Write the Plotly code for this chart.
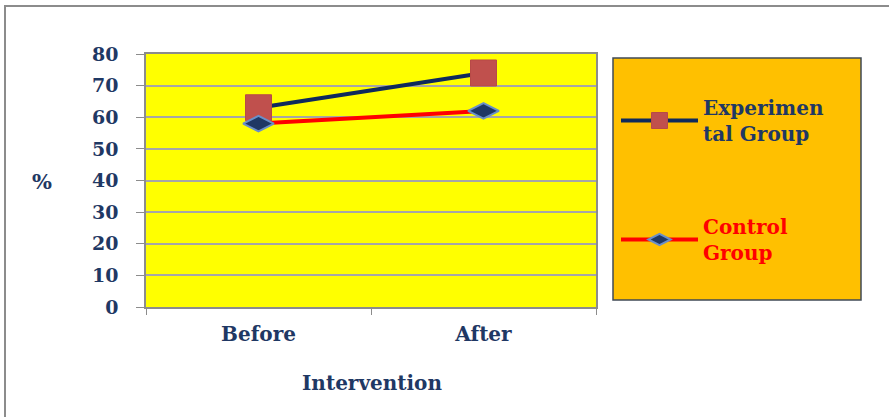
import plotly.graph_objects as go

# Before/after intervention percentages for the two study groups
categories = ["Before", "After"]
experimental = [63, 74]
control = [58, 62]
y_ticks = [0, 10, 20, 30, 40, 50, 60, 70, 80]

NAVY = "#1F3864"
SERIF = "DejaVu Serif"

W, H = 889, 417
L, R, T, B = 146, 596, 54, 307  # plot area in pixels


def px_x(x):
    return (x - L) / (R - L)


def px_y(y):
    return (B - y) / (B - T)


fig = go.Figure()

fig.add_trace(go.Scatter(
    x=categories, y=experimental, mode="lines+markers",
    name="<span style='color:#1F3864'>Experimen<br>tal Group</span>",
    legendgroup="exp",
    line=dict(color="#0F2A5C", width=4),
    marker=dict(symbol="square", size=26, color="#C0504D",
                line=dict(color="#B84A47", width=1)),
))
fig.add_trace(go.Scatter(
    x=categories, y=control, mode="lines+markers",
    name="<span style='color:#FF0000'>Control<br>Group</span>",
    legendgroup="ctl",
    line=dict(color="#FF0000", width=4),
    marker=dict(symbol="diamond-wide", size=22, color=NAVY,
                line=dict(color="#6A8FC8", width=2)),
))

shapes = [
    # outer chart frame
    dict(type="rect", xref="paper", yref="paper", layer="below",
         x0=px_x(5), x1=px_x(900), y0=px_y(430), y1=px_y(6),
         line=dict(color="#8C8C8C", width=2), fillcolor="rgba(0,0,0,0)"),
    # legend panel
    dict(type="rect", xref="paper", yref="paper", layer="below",
         x0=px_x(613), x1=px_x(861), y0=px_y(300), y1=px_y(58),
         line=dict(color="#404A55", width=1.5), fillcolor="#FFC000"),
]

annotations = [
    dict(text="%", xref="paper", yref="paper",
         x=px_x(42), y=px_y(181), xanchor="center", yanchor="middle",
         showarrow=False,
         font=dict(family=SERIF, size=21, color=NAVY, weight="bold")),
    dict(text="Intervention", xref="paper", yref="paper",
         x=px_x(372), y=px_y(383), xanchor="center", yanchor="middle",
         showarrow=False,
         font=dict(family=SERIF, size=20, color=NAVY, weight="bold")),
]

tick_font = dict(family=SERIF, size=19, color=NAVY, weight="bold")

fig.update_layout(
    width=W, height=H,
    margin=dict(l=L, r=W - R, t=T, b=H - B),
    paper_bgcolor="white",
    plot_bgcolor="#FFFF00",
    showlegend=True,
    legend=dict(
        x=px_x(616), y=px_y(88), xanchor="left", yanchor="top",
        bgcolor="rgba(0,0,0,0)", borderwidth=0,
        font=dict(family=SERIF, size=20, color=NAVY, weight="bold"),
        tracegroupgap=64, itemwidth=77,
    ),
    shapes=shapes,
    annotations=annotations,
    xaxis=dict(
        type="category", range=[-0.5, 1.5],
        tickson="boundaries", ticks="outside", ticklen=6,
        tickcolor="#8C8C8C", showline=True, linecolor="#8C8C8C",
        linewidth=1.5, mirror=True, showgrid=False,
        tickfont=dict(family=SERIF, size=20, color=NAVY, weight="bold"),
        ticklabelstandoff=8,
    ),
    yaxis=dict(
        range=[0, 80], tickvals=y_ticks, ticks="outside", ticklen=8,
        tickcolor="#8C8C8C", showline=True, linecolor="#8C8C8C",
        linewidth=1.5, mirror=True, showgrid=True, gridcolor="#A6A6A6",
        gridwidth=1.5, zeroline=False,
        tickfont=tick_font, ticklabelstandoff=14,
    ),
)

fig.write_html("out.html")
